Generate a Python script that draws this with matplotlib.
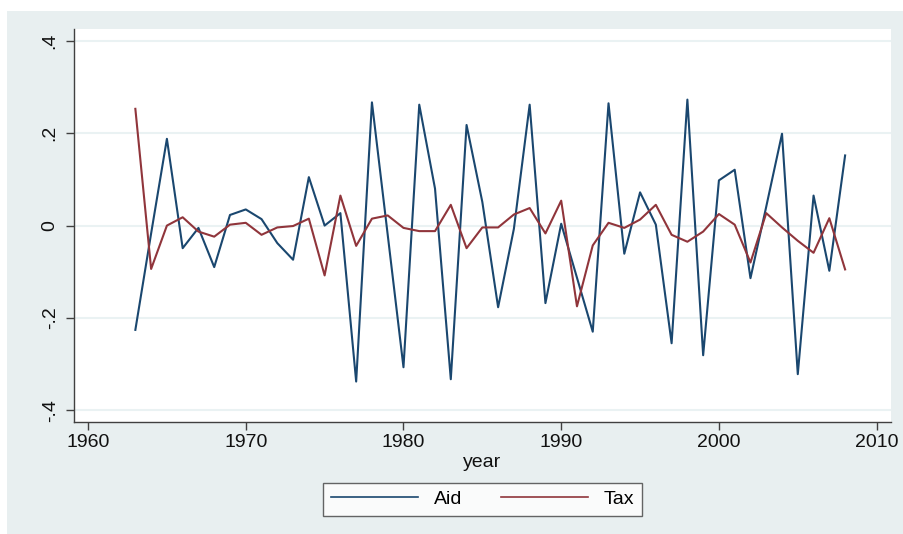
import matplotlib
matplotlib.use("Agg")
import matplotlib.pyplot as plt
from matplotlib.patches import Rectangle

# Datos
years = list(range(1963, 2009))
aid = [-0.226, -0.017, 0.188, -0.049, -0.005, -0.090, 0.023, 0.035, 0.014, -0.038,
       -0.074, 0.105, 0.000, 0.027, -0.338, 0.267, -0.020, -0.307, 0.262, 0.080,
       -0.333, 0.218, 0.051, -0.177, -0.007, 0.262, -0.168, 0.004, -0.113, -0.230,
       0.265, -0.061, 0.072, 0.002, -0.255, 0.273, -0.281, 0.098, 0.121, -0.114,
       0.041, 0.199, -0.322, 0.065, -0.098, 0.152]
tax = [0.253, -0.094, 0.000, 0.018, -0.013, -0.024, 0.002, 0.006, -0.020, -0.004,
       -0.001, 0.015, -0.108, 0.065, -0.044, 0.015, 0.022, -0.005, -0.012, -0.012,
       0.045, -0.049, -0.004, -0.004, 0.024, 0.038, -0.017, 0.054, -0.175, -0.043,
       0.006, -0.005, 0.013, 0.045, -0.020, -0.035, -0.013, 0.025, 0.002, -0.080,
       0.027, -0.004, -0.033, -0.059, 0.016, -0.095]
xticks = [1960, 1970, 1980, 1990, 2000, 2010]
yticks = [-0.4, -0.2, 0, 0.2, 0.4]
ylabels = ["-.4", "-.2", "0", ".2", ".4"]

plt.rcParams["font.family"] = ["Liberation Sans", "DejaVu Sans"]

fig = plt.figure(figsize=(9.04, 5.34), dpi=100)
fig.patch.set_facecolor("white")
# fondo gris estilo Stata
fig.patches.append(Rectangle((7 / 904, -0.1), 1.1, 1.1 - 11 / 534, transform=fig.transFigure,
                             facecolor="#e8eff0", edgecolor="none", zorder=-5))

ax = fig.add_axes([74 / 904, 1 - 421.7 / 534, 817 / 904, 392.7 / 534])
ax.set_zorder(2)
ax.set_facecolor("white")

for yt in yticks:
    ax.axhline(yt, color="#eaf2f3", lw=1.5, zorder=1)

ax.plot(years, aid, color="#1a476f", lw=1.5, label="Aid", zorder=3)
ax.plot(years, tax, color="#90353b", lw=1.5, label="Tax", zorder=3)

ax.set_xlim(1959.11, 2010.91)
ax.set_ylim(-0.425, 0.426)
ax.set_xticks(xticks)
ax.set_yticks(yticks)
ax.set_yticklabels(ylabels, rotation=90, va="center")

for s in ["top", "right"]:
    ax.spines[s].set_visible(False)
for s in ["left", "bottom"]:
    ax.spines[s].set_color("#404040")
    ax.spines[s].set_linewidth(1.0)

ax.tick_params(axis="both", direction="out", length=6, width=1, color="#404040",
               labelsize=14, labelcolor="#111111")
ax.tick_params(axis="y", pad=5)
ax.tick_params(axis="x", pad=3)
ax.set_xlabel("year", fontsize=14, labelpad=2, color="#111111")

leg = ax.legend(loc="upper center", bbox_to_anchor=(0.5, -0.155), ncol=2, fontsize=14,
                frameon=True, fancybox=False, handlelength=4.5, columnspacing=2.0,
                handletextpad=0.8, borderpad=0.4, borderaxespad=0.0)
leg.get_frame().set_edgecolor("#404040")
leg.get_frame().set_linewidth(1.0)
for h in leg.get_lines():
    h.set_linewidth(1.2)

fig.savefig("out.png", dpi=100, facecolor=fig.get_facecolor())
